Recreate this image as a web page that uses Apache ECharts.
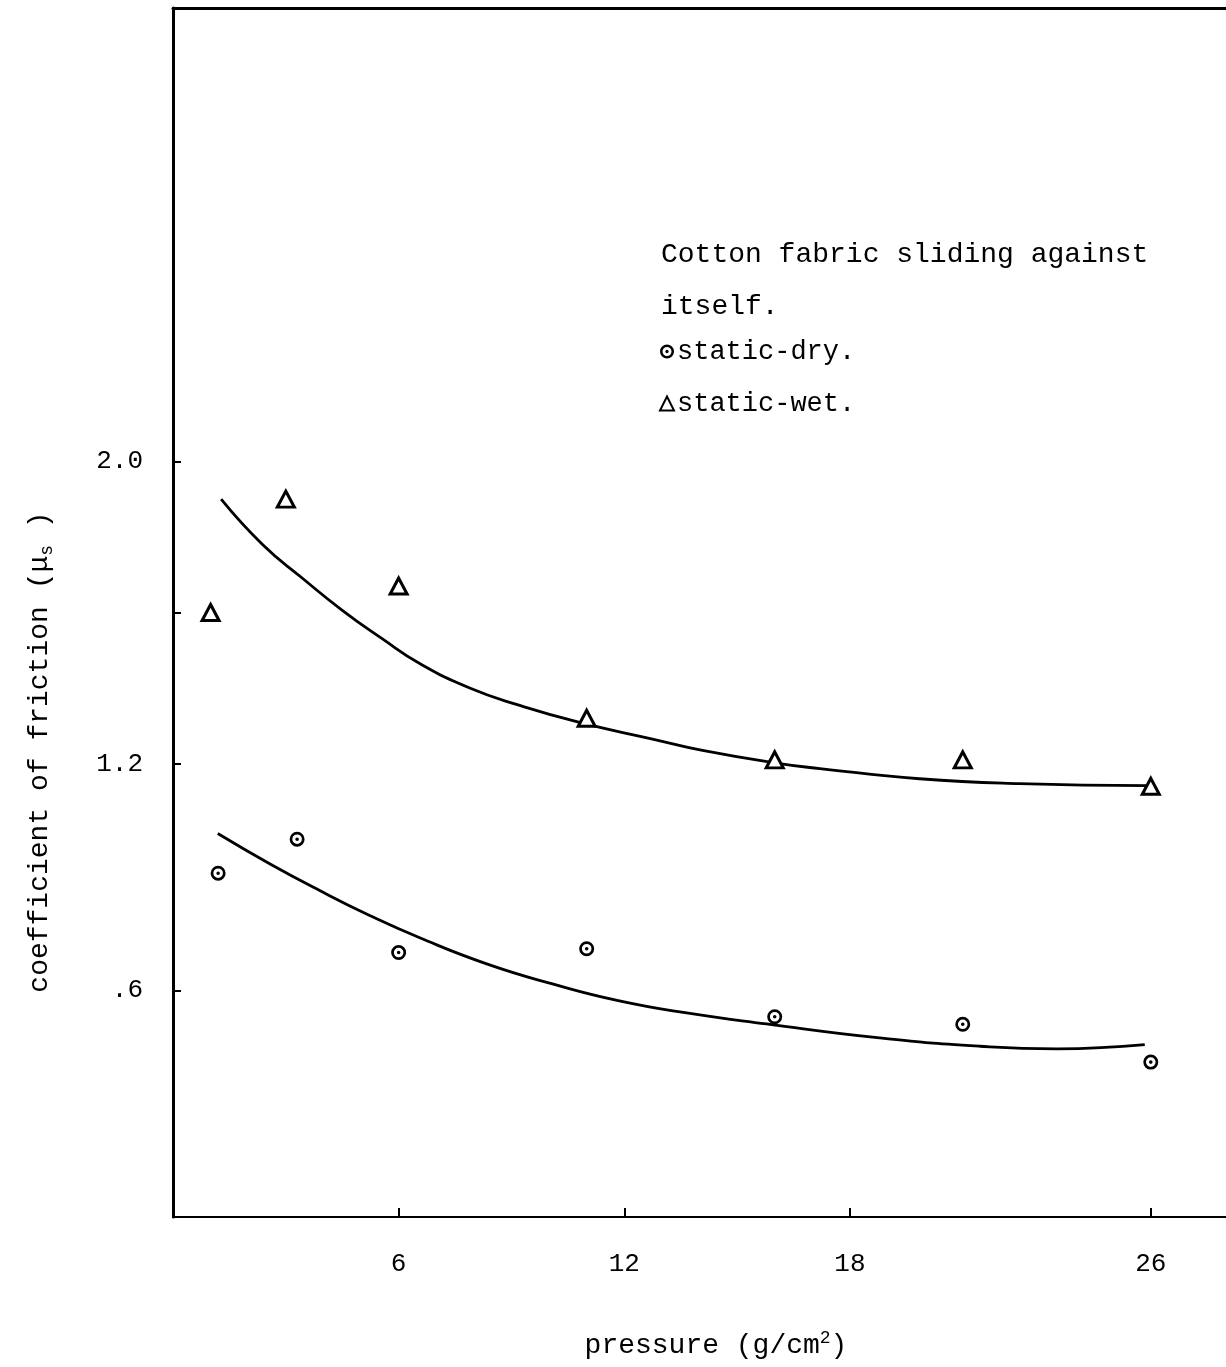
<!DOCTYPE html>
<html>
<head>
<meta charset="utf-8">
<script src="https://cdn.jsdelivr.net/npm/echarts@6/dist/echarts.min.js"></script>
<style>
  html, body { margin: 0; padding: 0; background: #fff; }
  #main { width: 1226px; height: 1367px; }
</style>
</head>
<body>
<div id="main"></div>
<script>
// measured points (pressure g/cm2, coefficient of friction)
const wetPoints = [[1, 1.60], [3, 1.90], [6, 1.67], [11, 1.32], [16, 1.21], [21, 1.21], [26, 1.14]];
const dryPoints = [[1.2, 0.91], [3.3, 1.00], [6, 0.70], [11, 0.71], [16, 0.53], [21, 0.51], [26, 0.41]];

// hand-drawn fitted curves
const wetCurve = [[1.28, 1.90], [2.38, 1.78], [3.45, 1.69], [4.51, 1.605], [5.57, 1.53], [6.56, 1.465],
  [7.89, 1.40], [9.22, 1.354], [10.81, 1.309], [12.75, 1.265], [14.08, 1.235], [16.13, 1.20],
  [17.2, 1.187], [19.85, 1.16], [22.5, 1.147], [25.9, 1.142]];
const dryCurve = [[1.19, 1.015], [2.57, 0.935], [3.90, 0.864], [5.23, 0.798], [6.56, 0.739],
  [8.34, 0.67], [10.09, 0.617], [11.87, 0.572], [13.66, 0.54], [15.78, 0.511], [18.79, 0.474],
  [21.45, 0.452], [23.5, 0.445], [25.84, 0.456]];

// tick positions
const xTicks = [6, 12, 18, 26];
const yTicks = [0.6, 1.2, 1.6, 2.0];
const yLabels = [0.6, 1.2, 2.0];

const ink = '#000';
const mono = '"Liberation Mono", "DejaVu Sans Mono", monospace';

// ring with a dot in the middle
const ringDot = 'path://M0,-10A10,10 0 1,1 0,10A10,10 0 1,1 0,-10Z' +
  'M0,-6.4A6.4,6.4 0 1,0 0,6.4A6.4,6.4 0 1,0 0,-6.4Z' +
  'M0,-2.4A2.4,2.4 0 1,1 0,2.4A2.4,2.4 0 1,1 0,-2.4Z';

const chart = echarts.init(document.getElementById('main'));

const option = {
  backgroundColor: '#fff',
  animation: false,
  textStyle: { fontFamily: mono, color: ink },
  grid: { left: 173, right: 0, top: 8, bottom: 150, containLabel: false },
  title: {
    text: 'Cotton fabric sliding against\nitself.',
    left: 661,
    top: 229,
    padding: 0,
    textStyle: { fontFamily: mono, fontSize: 28, fontWeight: 'normal', color: ink, lineHeight: 52 }
  },
  legend: {
    data: ['static-dry.', 'static-wet.'],
    orient: 'vertical',
    left: 659,
    top: 338,
    itemWidth: 14,
    itemHeight: 14,
    itemGap: 25,
    padding: 0,
    textStyle: { fontFamily: mono, fontSize: 27, color: ink, padding: [0, 0, 0, -2] }
  },
  xAxis: [
    {
      type: 'value',
      min: 0,
      max: 28,
      splitLine: { show: false },
      axisLine: { lineStyle: { color: ink, width: 2 } },
      axisTick: { inside: true, length: 9, customValues: xTicks, lineStyle: { color: ink, width: 2 } },
      axisLabel: { customValues: xTicks, margin: 34, fontSize: 26, fontFamily: mono, color: ink }
    },
    {
      // top border of the box
      type: 'value',
      position: 'top',
      min: 0,
      max: 28,
      splitLine: { show: false },
      axisLine: { show: true, lineStyle: { color: ink, width: 3 } },
      axisTick: { show: false },
      axisLabel: { show: false }
    }
  ],
  yAxis: {
    type: 'value',
    min: 0,
    max: 3.2,
    splitLine: { show: false },
    axisLine: { show: true, lineStyle: { color: ink, width: 3 } },
    axisTick: { show: true, inside: true, length: 8, customValues: yTicks, lineStyle: { color: ink, width: 2 } },
    axisLabel: {
      customValues: yLabels,
      margin: 30,
      fontSize: 26,
      fontFamily: mono,
      color: ink,
      formatter: v => (v < 1 ? String(v).replace(/^0/, '') : v.toFixed(1))
    }
  },
  graphic: [
    {
      type: 'text',
      x: 40,
      y: 752,
      rotation: Math.PI / 2,
      style: {
        text: '{a|coefficient of friction (μ}{s|s}{a| )}',
        align: 'center',
        verticalAlign: 'middle',
        fill: ink,
        rich: {
          a: { fontFamily: mono, fontSize: 28, fill: ink },
          s: { fontFamily: mono, fontSize: 18, fill: ink, padding: [14, 0, 0, 0] }
        }
      }
    },
    {
      type: 'text',
      x: 716,
      y: 1346,
      style: {
        text: '{a|pressure (g/cm}{p|2}{a|)}',
        align: 'center',
        verticalAlign: 'middle',
        fill: ink,
        rich: {
          a: { fontFamily: mono, fontSize: 28, fill: ink },
          p: { fontFamily: mono, fontSize: 18, fill: ink, padding: [0, 0, 16, 0] }
        }
      }
    }
  ],
  series: [
    {
      name: 'wet curve',
      type: 'line',
      smooth: 0.5,
      showSymbol: false,
      data: wetCurve,
      lineStyle: { color: ink, width: 2.8 },
      z: 2
    },
    {
      name: 'dry curve',
      type: 'line',
      smooth: 0.5,
      showSymbol: false,
      data: dryCurve,
      lineStyle: { color: ink, width: 2.8 },
      z: 2
    },
    {
      name: 'static-dry.',
      type: 'scatter',
      data: dryPoints,
      symbol: ringDot,
      symbolSize: 15,
      itemStyle: { color: ink, opacity: 1 },
      z: 3
    },
    {
      name: 'static-wet.',
      type: 'scatter',
      data: wetPoints,
      symbol: 'triangle',
      symbolSize: [17, 16],
      itemStyle: { color: '#fff', borderColor: ink, borderWidth: 3, opacity: 1 },
      z: 3
    }
  ]
};

chart.setOption(option);
</script>
</body>
</html>
